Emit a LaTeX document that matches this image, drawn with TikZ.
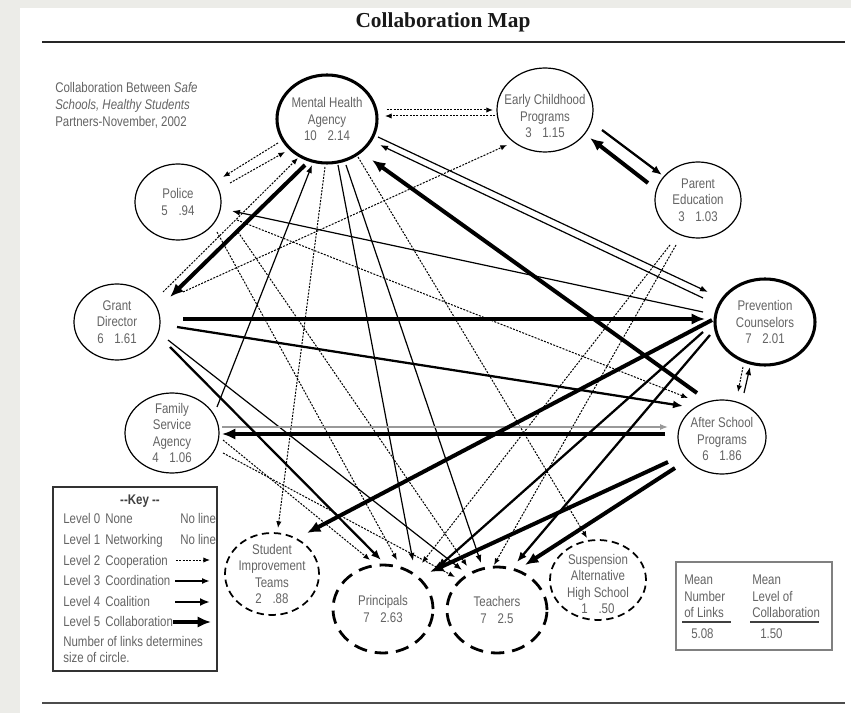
\documentclass[tikz,border=0pt]{standalone}
\usepackage{fontspec}
\setmainfont{Liberation Sans}[FakeStretch=0.82]
\newfontfamily\titlefont{Liberation Serif}
\usetikzlibrary{shapes.geometric,arrows.meta,calc}
\definecolor{txt}{RGB}{100,100,100}
\definecolor{bg}{RGB}{236,236,232}
\newcommand\lblfont{\fontsize{10.5}{12.4}\selectfont}
\begin{document}
\begin{tikzpicture}[x=0.75pt,y=-0.75pt,
  nd/.style={ellipse, draw=black, inner sep=0pt, line width=0.9pt},
  thk/.style={line width=2.3pt},
  dsh/.style={line width=1.3pt, dash pattern=on 5.5pt off 3.5pt},
  dshb/.style={line width=2.1pt, dash pattern=on 10pt off 6pt},
  lbl/.style={align=center, text=txt, font=\lblfont, inner sep=0pt},
  tx/.style={text=txt, font=\lblfont, inner sep=0pt, anchor=base west},
  l2/.style={line width=0.75pt, dash pattern=on 1.5pt off 1pt, -{Latex[length=5pt,width=4pt]}},
  l3/.style={line width=0.9pt, -{Latex[length=6pt,width=4.5pt]}},
  l4/.style={line width=1.7pt, -{Latex[length=7.5pt,width=6pt]}},
  l5/.style={line width=3pt, -{Latex[length=10pt,width=8.5pt]}}]
\useasboundingbox (0,0) rectangle (851,713);
\fill[bg] (0,0) rectangle (851,713);
\fill[white] (20,8) rectangle (851,713);

% title and rules
\node[font=\titlefont\bfseries\fontsize{16}{18}\selectfont, text=black!90, anchor=base, inner sep=0pt] (title) at (443,28) {Collaboration Map};
\coordinate (r1a) at (42,42); \coordinate (r1b) at (845,42);
\coordinate (r2a) at (42,703); \coordinate (r2b) at (845,703);
\draw[line width=1.6pt, black!85] (r1a) -- (r1b);
\draw[line width=1.4pt, black!70] (r2a) -- (r2b);

% top-left caption
\node[tx] (cap1) at (55,93) {Collaboration Between \textit{Safe}};
\node[tx] (cap2) at (55,110) {\textit{Schools, Healthy Students}};
\node[tx] (cap3) at (55,127) {Partners-November, 2002};

% nodes
\node[nd, thk, minimum width=75pt, minimum height=66pt] (mha) at (327,119) {};
\node[nd, minimum width=72pt, minimum height=63pt] (ec) at (545,110) {};
\node[nd, minimum width=64.5pt, minimum height=57pt] (pe) at (698,200) {};
\node[nd, minimum width=64.5pt, minimum height=57pt] (pol) at (178,202) {};
\node[nd, minimum width=64.5pt, minimum height=57pt] (gd) at (117,322) {};
\node[nd, minimum width=70.5pt, minimum height=60pt] (fsa) at (172,433) {};
\node[nd, thk, minimum width=75pt, minimum height=64.5pt] (pc) at (765,322) {};
\node[nd, minimum width=66pt, minimum height=55.5pt] (asp) at (722,437) {};
\node[nd, dsh, minimum width=70.5pt, minimum height=61.5pt] (sit) at (272,574) {};
\node[nd, dshb, minimum width=75pt, minimum height=66pt] (pri) at (383,609) {};
\node[nd, dshb, minimum width=75pt, minimum height=64.5pt] (tea) at (497,610) {};
\node[nd, dsh, minimum width=72pt, minimum height=60pt] (sahs) at (598,580) {};

\node[lbl] (mha-t) at (mha) {Mental Health\\Agency\\10\hspace{8pt}2.14};
\node[lbl] (ec-t) at ($(ec)+(0,6)$) {Early Childhood\\Programs\\3\hspace{8pt}1.15};
\node[lbl] (pe-t) at (pe) {Parent\\Education\\3\hspace{8pt}1.03};
\node[lbl] (pol-t) at (pol) {Police\\5\hspace{8pt}.94};
\node[lbl] (gd-t) at (gd) {Grant\\Director\\6\hspace{8pt}1.61};
\node[lbl] (fsa-t) at (fsa) {Family\\Service\\Agency\\4\hspace{8pt}1.06};
\node[lbl] (pc-t) at (pc) {Prevention\\Counselors\\7\hspace{8pt}2.01};
\node[lbl] (asp-t) at ($(asp)+(0,2)$) {After School\\Programs\\6\hspace{8pt}1.86};
\node[lbl] (sit-t) at (sit) {Student\\Improvement\\Teams\\2\hspace{8pt}.88};
\node[lbl] (pri-t) at (pri) {Principals\\7\hspace{8pt}2.63};
\node[lbl] (tea-t) at (tea) {Teachers\\7\hspace{8pt}2.5};
\node[lbl] (sahs-t) at ($(sahs)+(0,4)$) {Suspension\\Alternative\\High School\\1\hspace{8pt}.50};

% level 2 (cooperation)
\draw[l2] ($(mha)+(60,-9)$) -- ($(ec)+(-52,0)$);
\draw[l2] ($(ec)+(-50,6)$) -- ($(mha)+(58,-3)$);
\draw[l2] ($(mha)+(-49,24)$) -- ($(pol)+(45,-25)$);
\draw[l2] ($(pol)+(52,-19)$) -- ($(mha)+(-42,33)$);
\draw[l2] ($(gd)+(46,-30)$) -- ($(mha)+(-29,39)$);
\draw[l2] ($(gd)+(66,-30)$) -- ($(ec)+(-38,35)$);
\draw[l2] ($(mha)+(-2,48)$) -- ($(sit)+(6,-46)$);
\draw[l2] ($(mha)+(31,38)$) -- ($(sahs)+(-11,-42)$);
\draw[l2] ($(pol)+(59,18)$) -- ($(asp)+(-34,-39)$);
\draw[l2] ($(pol)+(39,30)$) -- ($(pri)+(14,-49)$);
\draw[l2] ($(pol)+(60,30)$) -- ($(tea)+(-30,-44)$);
\draw[l2] ($(fsa)+(51,7)$) -- ($(pri)+(-13,-49)$);
\draw[l2] ($(fsa)+(51,20)$) -- ($(tea)+(-42,-33)$);
\draw[l2] ($(pe)+(-28,45)$) -- ($(pri)+(39,-46)$);
\draw[l2] ($(pe)+(-22,45)$) -- ($(tea)+(-3,-45)$);
\draw[l2] ($(pc)+(-22,45)$) -- ($(asp)+(16,-45)$);

% level 3 (coordination)
\draw[l3] ($(mha)+(51,18)$) -- ($(pc)+(-57,-30)$);
\draw[l3] ($(pc)+(-62,-24)$) -- ($(mha)+(53,26)$);
\draw[l3] ($(pc)+(-62,-10)$) -- ($(pol)+(54,9)$);
\draw[l3] ($(fsa)+(45,-26)$) -- ($(mha)+(-15,46)$);
\draw[l3] ($(mha)+(11,46)$) -- ($(pri)+(30,-48)$);
\draw[l3] ($(mha)+(19,46)$) -- ($(tea)+(-16,-47)$);
\draw[l3] ($(gd)+(51,18)$) -- ($(tea)+(-35,-40)$);
\draw[l3] ($(asp)+(22,-44)$) -- ($(pc)+(-15,45)$);
\draw[l3, black!40] ($(fsa)+(50,-6)$) -- ($(asp)+(-54,-10)$);

% level 4 (coalition)
\draw[l4] ($(ec)+(57,20)$) -- ($(pe)+(-36,-25)$);
\draw[l4] ($(gd)+(60,5)$) -- ($(asp)+(-39,-31)$);
\draw[l4] ($(gd)+(53,25)$) -- ($(pri)+(-2,-49)$);
\draw[l4] ($(pc)+(-62,10)$) -- ($(pri)+(54,-41)$);
\draw[l4] ($(pc)+(-55,13)$) -- ($(tea)+(20,-48)$);

% level 5 (collaboration)
\draw[l5] ($(mha)+(-22,46)$) -- ($(gd)+(53,-25)$);
\draw[l5] ($(asp)+(-25,-44)$) -- ($(mha)+(45,41)$);
\draw[l5] ($(pe)+(-50,-17)$) -- ($(ec)+(45,28)$);
\draw[l5] ($(gd)+(66,-3)$) -- ($(pc)+(-60,-3)$);
\draw[l5] ($(asp)+(-57,-3)$) -- ($(fsa)+(50,1)$);
\draw[l5] ($(pc)+(-53,-2)$) -- ($(sit)+(35,-41)$);
\draw[l5] ($(asp)+(-54,25)$) -- ($(pri)+(47,-37)$);
\draw[l5] ($(asp)+(-47,31)$) -- ($(tea)+(28,-45)$);

% key box
\node[draw=black!80, line width=0.9pt, minimum width=123pt, minimum height=138pt, inner sep=0pt] (keybox) at (135,579) {};
\node[font=\lblfont\bfseries, text=black!75, anchor=base, inner sep=0pt] (keyt) at (140,504) {{-}{-}Key {-}{-}};
\node[tx] (k0a) at (63,523) {Level 0}; \node[tx] (k0b) at (105,523) {None}; \node[tx] (k0c) at (180,523) {No line};
\node[tx] (k1a) at (63,544) {Level 1}; \node[tx] (k1b) at (105,544) {Networking}; \node[tx] (k1c) at (180,544) {No line};
\node[tx] (k2a) at (63,565) {Level 2}; \node[tx] (k2b) at (105,565) {Cooperation};
\node[tx] (k3a) at (63,585) {Level 3}; \node[tx] (k3b) at (105,585) {Coordination};
\node[tx] (k4a) at (63,606) {Level 4}; \node[tx] (k4b) at (105,606) {Coalition};
\node[tx] (k5a) at (63,626) {Level 5}; \node[tx] (k5b) at (105,626) {Collaboration};
\node[tx] (kn1) at (63,646) {Number of links determines};
\node[tx] (kn2) at (63,662) {size of circle.};
\coordinate (k2s) at (176,560); \coordinate (k2e) at (210,560);
\coordinate (k3s) at (175,581); \coordinate (k3e) at (210,581);
\coordinate (k4s) at (175,602); \coordinate (k4e) at (210,602);
\coordinate (k5s) at (173,622); \coordinate (k5e) at (211,622);
\draw[l2] (k2s) -- (k2e);
\draw[l3, line width=1.2pt] (k3s) -- (k3e);
\draw[l4] (k4s) -- (k4e);
\draw[l5, line width=3.5pt] (k5s) -- (k5e);

% mean box
\node[draw=black!50, line width=0.8pt, minimum width=117pt, minimum height=66pt, inner sep=0pt] (meanbox) at (754,606) {};
\node[tx] (m1a) at (684,584) {Mean};
\node[tx] (m1b) at (684,601) {Number};
\node[tx] (m1c) at (684,617) {of Links};
\node[tx] (m1d) at (691,638) {5.08};
\node[tx] (m2a) at (752,584) {Mean};
\node[tx] (m2b) at (752,601) {Level of};
\node[tx] (m2c) at (752,617) {Collaboration};
\node[tx] (m2d) at (760,638) {1.50};
\coordinate (u1a) at (682,622); \coordinate (u1b) at (731,622);
\coordinate (u2a) at (750,622); \coordinate (u2b) at (819,622);
\draw[line width=1.3pt, black!75] (u1a) -- (u1b);
\draw[line width=1.3pt, black!75] (u2a) -- (u2b);
\end{tikzpicture}
\end{document}
